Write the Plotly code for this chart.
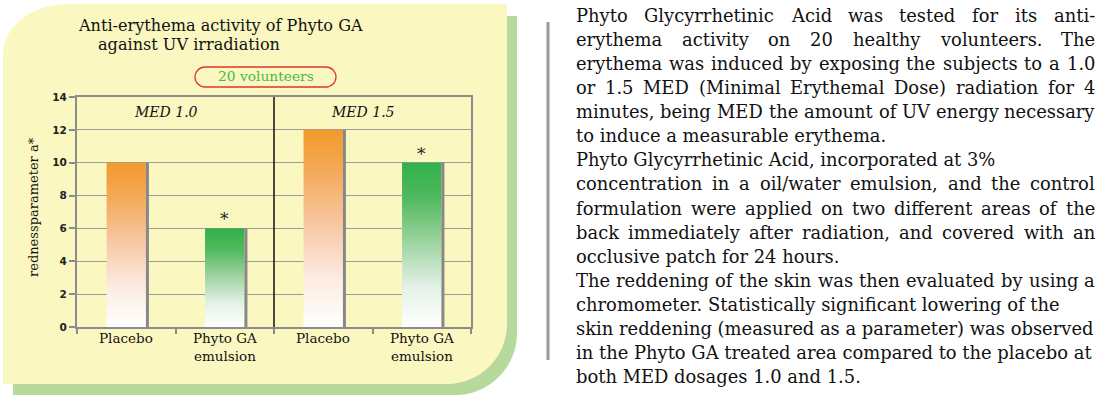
import glob
import plotly.graph_objects as go

# ---------------- data ----------------
categories = ["Placebo", "Phyto GA<br>emulsion", "Placebo", "Phyto GA<br>emulsion"]
values = [10, 6, 12, 10]
treatment = ["placebo", "phyto", "placebo", "phyto"]
significance = ["", "*", "", "*"]
groups = ["MED 1.0", "MED 1.5"]
bars_per_group = 2
y_ticks = [0, 2, 4, 6, 8, 10, 12, 14]

title_lines = ["Anti-erythema activity of Phyto GA", "against UV irradiation"]
badge_text = "20 volunteers"
y_title = "rednessparameter a*"

body_lines = [
    "Phyto Glycyrrhetinic Acid was tested for its anti-",
    "erythema activity on 20 healthy volunteers. The",
    "erythema was induced by exposing the subjects to a 1.0",
    "or 1.5 MED (Minimal Erythemal Dose) radiation for 4",
    "minutes, being MED the amount of UV energy necessary",
    "to induce a measurable erythema.",
    "Phyto Glycyrrhetinic Acid, incorporated at 3%",
    "concentration in a oil/water emulsion, and the control",
    "formulation were applied on two different areas of the",
    "back immediately after radiation, and covered with an",
    "occlusive patch for 24 hours.",
    "The reddening of the skin was then evaluated by using a",
    "chromometer. Statistically significant lowering of the",
    "skin reddening (measured as a parameter) was observed",
    "in the Phyto GA treated area compared to the placebo at",
    "both MED dosages 1.0 and 1.5.",
]
justified = [True, True, True, True, True, False, False, True, True, True, False, True,
             False, False, False, False]

# ---------------- styling ----------------
W_FIG, H_FIG = 1101, 399
L, R, T, B = 77, 471, 97, 327
PW, PH = R - L, B - T

YELLOW = "#FBF7C1"
GREEN_PANEL = "#B6D99C"
GRAY = "#8C8C8C"
SERIF = "DejaVu Serif"
TXT = "#111111"

scales = {
    "placebo": [[0, "#FFFFFF"], [0.25, "#FCEBE1"], [0.55, "#F7C49A"], [0.8, "#F3A955"], [1, "#F29A2C"]],
    "phyto": [[0, "#FFFFFF"], [0.25, "#E3F0E6"], [0.55, "#93D097"], [0.8, "#4DB85C"], [1, "#31B14A"]],
}


def px(x):
    return (x - L) / PW


def py(y):
    return (B - y) / PH


def rounded_path(x0, y0, x1, y1, tl=(0, 0), tr=(0, 0), br=(0, 0), bl=(0, 0)):
    k = 0.5523

    def P(x, y):
        return f"{px(x):.5f},{py(y):.5f}"

    s = f"M {P(x0 + tl[0], y0)} L {P(x1 - tr[0], y0)} "
    if tr[0] > 0:
        s += f"C {P(x1 - tr[0] + k * tr[0], y0)} {P(x1, y0 + tr[1] - k * tr[1])} {P(x1, y0 + tr[1])} "
    s += f"L {P(x1, y1 - br[1])} "
    if br[0] > 0:
        s += f"C {P(x1, y1 - br[1] + k * br[1])} {P(x1 - br[0] + k * br[0], y1)} {P(x1 - br[0], y1)} "
    s += f"L {P(x0 + bl[0], y1)} "
    if bl[0] > 0:
        s += f"C {P(x0 + bl[0] - k * bl[0], y1)} {P(x0, y1 - bl[1] + k * bl[1])} {P(x0, y1 - bl[1])} "
    s += f"L {P(x0, y0 + tl[1])} "
    if tl[0] > 0:
        s += f"C {P(x0, y0 + tl[1] - k * tl[1])} {P(x0 + tl[0] - k * tl[0], y0)} {P(x0 + tl[0], y0)} "
    s += "Z"
    return s


# ---------- optional text measurement (for justified paragraph) ----------
measure = None
try:
    from PIL import ImageFont
    cands = glob.glob("/usr/share/fonts/**/DejaVuSerif.ttf", recursive=True)
    if cands:
        _f = ImageFont.truetype(cands[0], 100)
        measure = lambda s, size: _f.getlength(s) * size / 100.0
except Exception:
    measure = None

fig = go.Figure()

bar_w = 0.40
for i, (v, t) in enumerate(zip(values, treatment)):
    c = i
    fig.add_trace(go.Scatter(
        x=[c - bar_w / 2, c + bar_w / 2, c + bar_w / 2, c - bar_w / 2, c - bar_w / 2],
        y=[0, 0, v, v, 0],
        mode="none", fill="toself",
        fillgradient=dict(type="vertical", colorscale=scales[t]),
        showlegend=False, hoverinfo="skip",
    ))
    fig.add_trace(go.Scatter(
        x=[c + bar_w / 2 + 0.015, c + bar_w / 2 + 0.015], y=[0, v],
        mode="lines", line=dict(color="#888888", width=3),
        showlegend=False, hoverinfo="skip",
    ))

shapes = []
shapes.append(dict(type="path", xref="paper", yref="paper", layer="below",
                   path=rounded_path(13, 16, 517, 395, tl=(60, 48), br=(62, 62)),
                   fillcolor=GREEN_PANEL, line=dict(width=0)))
shapes.append(dict(type="path", xref="paper", yref="paper", layer="below",
                   path=rounded_path(3, 4, 507, 384, tl=(65, 50), br=(60, 60)),
                   fillcolor=YELLOW, line=dict(width=0)))
shapes.append(dict(type="path", xref="paper", yref="paper", layer="above",
                   path=rounded_path(195, 67, 336, 87, tl=(10, 10), tr=(10, 10), br=(10, 10), bl=(10, 10)),
                   fillcolor="rgba(0,0,0,0)", line=dict(color="#E2352E", width=1.3)))
for g in range(1, len(groups)):
    xs = g * bars_per_group - 0.5
    shapes.append(dict(type="line", xref="x", yref="y", x0=xs, x1=xs, y0=0, y1=y_ticks[-1],
                       line=dict(color="#111111", width=1.5), layer="above"))
shapes.append(dict(type="line", xref="paper", yref="paper", x0=px(548), x1=px(548),
                   y0=py(22), y1=py(360), line=dict(color="#9A9A9A", width=3)))

annotations = []
annotations.append(dict(xref="paper", yref="paper", x=px(76), y=py(25), xanchor="left", yanchor="middle",
                        text=title_lines[0], showarrow=False,
                        font=dict(family=SERIF, size=16.1, color=TXT)))
annotations.append(dict(xref="paper", yref="paper", x=px(96), y=py(45), xanchor="left", yanchor="middle",
                        text=title_lines[1], showarrow=False,
                        font=dict(family=SERIF, size=16.1, color=TXT)))
annotations.append(dict(xref="paper", yref="paper", x=px(265.5), y=py(76.5), xanchor="center", yanchor="middle",
                        text=badge_text, showarrow=False,
                        font=dict(family=SERIF, size=13.8, color="#4DB848")))
annotations.append(dict(xref="paper", yref="paper", x=px(33), y=py(207), xanchor="center", yanchor="middle",
                        text=y_title, textangle=-90, showarrow=False,
                        font=dict(family=SERIF, size=13, color=TXT)))
for g, name in enumerate(groups):
    gc = g * bars_per_group + (bars_per_group - 1) / 2 - 0.1
    annotations.append(dict(xref="x", yref="y", x=gc, y=13.1, xanchor="center", yanchor="middle",
                            text=f"<i>{name}</i>", showarrow=False,
                            font=dict(family=SERIF, size=14, color=TXT)))
# category labels
for i, cat in enumerate(categories):
    annotations.append(dict(xref="x", yref="paper", x=i, y=py(328), xanchor="center", yanchor="top",
                            text=cat, showarrow=False,
                            font=dict(family=SERIF, size=13.5, color=TXT)))
# significance marks
for i, (v, s) in enumerate(zip(values, significance)):
    if s:
        annotations.append(dict(xref="x", yref="y", x=i, y=v, xanchor="center", yanchor="bottom",
                                text=s, showarrow=False, yshift=-3,
                                font=dict(family=SERIF, size=17, color="#222")))

# paragraph on the right
x_left, x_right = 575, 1094
line_y0, line_dy = 15.5, 24.07
body_size = 18.0
if measure is not None:
    body_size = min(18.5, 18.5 * 516.0 / measure(body_lines[14], 18.5))
for k, ln in enumerate(body_lines):
    yk = py(line_y0 + k * line_dy)
    font = dict(family=SERIF, size=body_size, color=TXT)
    if measure is not None and justified[k]:
        words = ln.split(" ")
        widths = [measure(w, body_size) for w in words]
        space = measure(" ", body_size)
        gap = (x_right - x_left - sum(widths)) / (len(words) - 1)
        gap = max(gap, space * 0.7)
        xc = x_left
        for w, wd in zip(words, widths):
            annotations.append(dict(xref="paper", yref="paper", x=px(xc - 1), y=yk,
                                    xanchor="left", yanchor="middle", text=w, showarrow=False,
                                    font=font))
            xc += wd + gap
    else:
        annotations.append(dict(xref="paper", yref="paper", x=px(x_left - 1), y=yk,
                                xanchor="left", yanchor="middle", text=ln, showarrow=False,
                                font=font))

fig.update_layout(
    width=W_FIG, height=H_FIG,
    margin=dict(l=L, r=W_FIG - R, t=T, b=H_FIG - B, autoexpand=False),
    paper_bgcolor="white", plot_bgcolor="rgba(0,0,0,0)",
    shapes=shapes, annotations=annotations,
    xaxis=dict(range=[-0.5, len(categories) - 0.5], tickmode="array",
               tickvals=list(range(len(categories))), ticktext=[""] * len(categories),
               ticks="", showgrid=False, zeroline=False,
               showline=True, mirror=True, linecolor=GRAY, linewidth=2,
               minor=dict(tickmode="linear", tick0=-0.5, dtick=1, ticks="outside",
                          ticklen=5, tickwidth=1.5, tickcolor=GRAY, showgrid=False),
               fixedrange=True),
    yaxis=dict(range=[0, y_ticks[-1]], tickmode="array", tickvals=y_ticks,
               showgrid=True, gridcolor="#9B9B9B", gridwidth=1.3, zeroline=False,
               showline=True, mirror=True, linecolor=GRAY, linewidth=2,
               ticks="outside", ticklen=6, tickwidth=1.5, tickcolor=GRAY,
               tickfont=dict(family="DejaVu Sans", size=10.5, color="#222", weight="bold"),
               fixedrange=True),
    showlegend=False,
)

fig.write_html("out.html", config={"displayModeBar": False},
               post_script="document.body.style.margin='0';")
